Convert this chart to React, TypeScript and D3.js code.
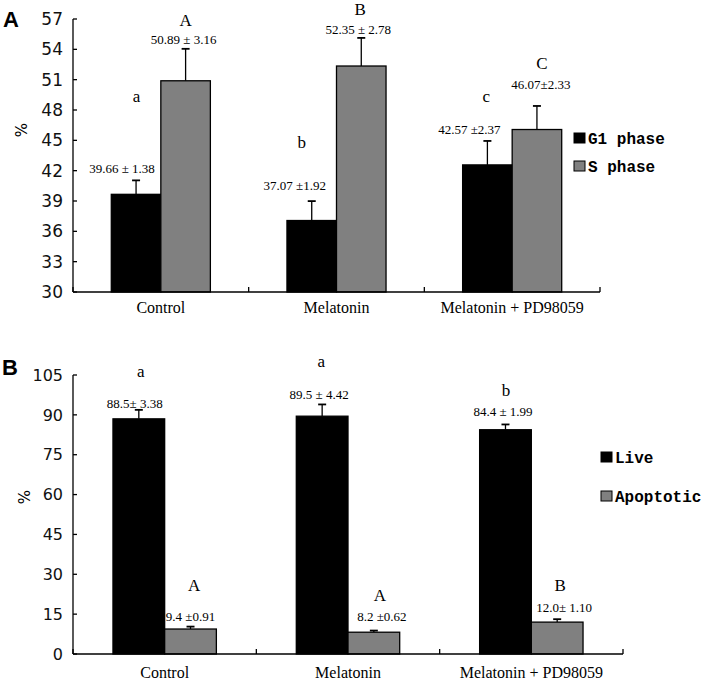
import React from 'react';
import * as d3 from 'd3';

// ---------- DATA ----------
const categories = ['Control', 'Melatonin', 'Melatonin + PD98059'];

// Panel A: cell cycle
const seriesA = ['G1 phase', 'S phase'];
const g1Mean = [39.66, 37.07, 42.57];
const g1SD = [1.38, 1.92, 2.37];
const sMean = [50.89, 52.35, 46.07];
const sSD = [3.16, 2.78, 2.33];
const g1Letters = ['a', 'b', 'c'];
const sLetters = ['A', 'B', 'C'];
const ticksA = [30, 33, 36, 39, 42, 45, 48, 51, 54, 57];

// Panel B: apoptosis
const seriesB = ['Live', 'Apoptotic'];
const liveMean = [88.5, 89.5, 84.4];
const liveSD = [3.38, 4.42, 1.99];
const apoMean = [9.4, 8.2, 12.0];
const apoSD = [0.91, 0.62, 1.1];
const liveLetters = ['a', 'a', 'b'];
const apoLetters = ['A', 'A', 'B'];
const ticksB = [0, 15, 30, 45, 60, 75, 90, 105];

// ---------- STYLE / LAYOUT ----------
const FILLS = ['#000000', '#808080'];
const SERIF = '"Liberation Serif", "Times New Roman", serif';
const SANS = '"DejaVu Sans", Arial, sans-serif';
const MONO = '"Liberation Mono", "Courier New", monospace';

type Off = [number, number];

interface PanelProps {
  panelLetter: string;
  letterY: number;
  series: string[];
  means: number[][];
  sds: number[][];
  letters: string[][];
  ticks: number[];
  digits: number;
  x0: number;
  x1: number;
  yTop: number;
  yBottom: number;
  tickFont: number;
  percentY: number;
  percentX: number;
  catLabelY: number;
  labelOff: Off[][];
  letterOff: Off[][];
  seps: string[][];
  legendX: number;
  legendY: number[];
}

function Panel(p: PanelProps) {
  const y = d3
    .scaleLinear()
    .domain([p.ticks[0], p.ticks[p.ticks.length - 1]])
    .range([p.yBottom, p.yTop]);
  const x = d3.scaleBand<string>().domain(categories).range([p.x0, p.x1]).padding(0);
  const bw = x.bandwidth();
  const barW = bw * 0.282;
  const inner = d3
    .scaleBand<string>()
    .domain(p.series)
    .range([(bw - 2 * barW) / 2, (bw + 2 * barW) / 2])
    .padding(0);

  const boundaries = [...categories.map((c) => x(c)!), p.x1];

  return (
    <g>
      <text x={p.panelLetter === 'A' ? 3 : 2} y={p.letterY} fontFamily='"Liberation Sans", Arial, sans-serif' fontWeight="bold" fontSize={22}>
        {p.panelLetter}
      </text>
      {/* y axis */}
      <line x1={p.x0} x2={p.x0} y1={p.yTop} y2={p.yBottom} stroke="#000" strokeWidth={1.3} />
      {p.ticks.map((t) => (
        <g key={t}>
          <line x1={p.x0} x2={p.x0 + 4} y1={y(t)} y2={y(t)} stroke="#000" strokeWidth={1.3} />
          <text
            x={p.x0 - 10}
            y={y(t)}
            dy="0.36em"
            textAnchor="end"
            fontFamily={SANS}
            fontSize={p.tickFont}
            fill="#111"
          >
            {t}
          </text>
        </g>
      ))}
      <text
        transform={`translate(${p.percentX},${p.percentY}) rotate(-90)`}
        textAnchor="middle"
        fontFamily={SANS}
        fontSize={15}
        dy="0.35em"
      >
        %
      </text>
      {/* bars */}
      {p.series.map((s, si) =>
        categories.map((c, ci) => {
          const v = p.means[si][ci];
          const e = p.sds[si][ci];
          const bx = x(c)! + inner(s)!;
          const cx = bx + barW / 2;
          const top = y(v);
          const cap = y(v + e);
          const [ldx, ldy] = p.labelOff[si][ci];
          const [tdx, tdy] = p.letterOff[si][ci];
          const labelCy = cap + ldy;
          const letter = p.letters[si][ci];
          const isUpper = letter === letter.toUpperCase() || letter === 'b';
          return (
            <g key={s + c}>
              <line x1={cx} x2={cx} y1={top} y2={cap} stroke="#000" strokeWidth={1.3} />
              <line x1={cx - 4} x2={cx + 4} y1={cap} y2={cap} stroke="#000" strokeWidth={1.8} />
              <rect
                x={bx}
                y={top}
                width={barW}
                height={y(p.ticks[0]) - top}
                fill={FILLS[si]}
                stroke="#000"
                strokeWidth={1.3}
              />
              <text
                x={cx + ldx}
                y={labelCy + 4.5}
                textAnchor="middle"
                fontFamily={SERIF}
                fontSize={13}
              >
                {`${v.toFixed(p.digits)}${p.seps[si][ci]}${e.toFixed(2)}`}
              </text>
              <text
                x={cx + tdx}
                y={labelCy + tdy + (isUpper ? 5.8 : 4)}
                textAnchor="middle"
                fontFamily={SERIF}
                fontSize={17}
              >
                {letter}
              </text>
            </g>
          );
        })
      )}
      {/* x axis */}
      <line x1={p.x0} x2={p.x1} y1={p.yBottom} y2={p.yBottom} stroke="#000" strokeWidth={1.3} />
      {boundaries.map((b, i) => (
        <line key={i} x1={b} x2={b} y1={p.yBottom} y2={p.yBottom - 5} stroke="#000" strokeWidth={1.3} />
      ))}
      {categories.map((c) => (
        <text
          key={c}
          x={x(c)! + bw / 2}
          y={p.catLabelY}
          textAnchor="middle"
          fontFamily={SERIF}
          fontSize={16}
        >
          {c}
        </text>
      ))}
      {/* legend */}
      {p.series.map((s, si) => (
        <g key={s}>
          <rect
            x={p.legendX}
            y={p.legendY[si] - 11}
            width={11}
            height={10}
            fill={FILLS[si]}
            stroke="#000"
            strokeWidth={1}
          />
          <text
            x={p.legendX + 14}
            y={p.legendY[si]}
            fontFamily={MONO}
            fontWeight="bold"
            fontSize={16}
          >
            {s}
          </text>
        </g>
      ))}
    </g>
  );
}

export default function App() {
  return (
    <svg
      width={703}
      height={680}
      style={{ position: 'absolute', left: 0, top: 0, background: '#fff' }}
    >
      <rect width={703} height={680} fill="#fff" />
      <Panel
        panelLetter="A"
        letterY={27}
        series={seriesA}
        means={[g1Mean, sMean]}
        sds={[g1SD, sSD]}
        letters={[g1Letters, sLetters]}
        ticks={ticksA}
        digits={2}
        x0={73}
        x1={600}
        yTop={19}
        yBottom={292}
        tickFont={17}
        percentX={22}
        percentY={130}
        catLabelY={313}
        labelOff={[
          [[-14, -12], [-17, -16], [-18, -11]],
          [[-2, -9], [-3, -8], [4, -21]],
        ]}
        letterOff={[
          [[0.5, -70], [-10, -43], [-1, -32]],
          [[0, -20], [-1, -21], [5, -22]],
        ]}
        seps={[
          [' ± ', ' ±', ' ±'],
          [' ± ', ' ± ', '±'],
        ]}
        legendX={574}
        legendY={[144, 172]}
      />
      <Panel
        panelLetter="B"
        letterY={375}
        series={seriesB}
        means={[liveMean, apoMean]}
        sds={[liveSD, apoSD]}
        letters={[liveLetters, apoLetters]}
        ticks={ticksB}
        digits={1}
        x0={73}
        x1={623}
        yTop={375}
        yBottom={654}
        tickFont={16}
        percentX={25}
        percentY={497}
        catLabelY={678}
        labelOff={[
          [[-4, -6], [-3, -9.5], [-2.5, -12.5]],
          [[0, -10.6], [8, -13.6], [7, -12]],
        ]}
        letterOff={[
          [[2, -31], [-1, -32], [0.5, -22]],
          [[3.5, -31], [6, -22], [3, -22]],
        ]}
        seps={[
          ['± ', ' ± ', ' ± '],
          [' ±', ' ±', '± '],
        ]}
        legendX={601}
        legendY={[463, 502]}
      />
    </svg>
  );
}
